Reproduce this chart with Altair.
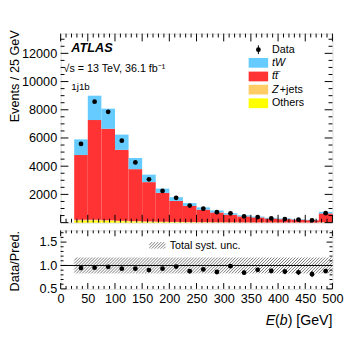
import altair as alt
import pandas as pd

# ---------------- data ----------------
bin_lo = [25, 50, 75, 100, 125, 150, 175, 200, 225, 250, 275, 300, 325, 350, 375, 400, 425, 450, 475]
bin_hi = [50, 75, 100, 125, 150, 175, 200, 225, 250, 275, 300, 325, 350, 375, 400, 425, 450, 475, 500]
data_vals = [5575, 8570, 7855, 5810, 4265, 3070, 2245, 1760, 1210, 990, 740, 660, 440, 390, 300, 252, 205, 163, 670]
data_err = [75, 93, 89, 76, 65, 55, 47, 42, 35, 31, 27, 26, 21, 20, 17, 16, 14, 13, 26]
tw_vals = [1110, 1730, 1430, 1080, 790, 530, 300, 260, 190, 160, 140, 110, 80, 60, 50, 45, 35, 30, 110]
ttbar_vals = [4590, 7060, 6485, 5025, 3682, 2788, 2048, 1492, 1152, 890, 696, 541, 425, 358, 279, 236, 197, 163, 630]
zjets_vals = [70, 60, 45, 35, 28, 22, 17, 13, 10, 8, 6, 5, 4, 3, 3, 2, 2, 2, 6]
others_vals = [130, 150, 120, 100, 80, 60, 45, 35, 28, 22, 18, 14, 11, 9, 8, 7, 6, 5, 14]
syst_unc = [0.17, 0.17, 0.17, 0.17, 0.17, 0.17, 0.17, 0.17, 0.17, 0.17, 0.17, 0.17, 0.17, 0.17, 0.17, 0.17, 0.17, 0.17, 0.17]

process_names = ["Others", "Z+jets", "ttbar", "tW"]
process_colors = ["#FFFF00", "#FFCC66", "#FF3333", "#66CCFF"]

x_major = [0, 50, 100, 150, 200, 250, 300, 350, 400, 450, 500]
x_minor = [v for v in range(0, 501, 10) if v % 50 != 0]
y_main_labels = [2000, 4000, 6000, 8000, 10000, 12000]
y_main_major = [0, 2000, 4000, 6000, 8000, 10000, 12000]
y_main_minor = [v for v in range(500, 13400, 500) if v % 2000 != 0]
y_ratio_labels = [0.5, 1, 1.5]
y_ratio_minor = [0.6, 0.7, 0.8, 0.9, 1.1, 1.2, 1.3, 1.4, 1.6, 1.7]

# ---------------- geometry ----------------
W = 279
H1 = 194
H2 = 60
X_DOM = [0, 500]
Y1_DOM = [0, 13400]
Y2_DOM = [0.5, 1.75]
FONT = "Liberation Sans"

# ---------------- derived tables ----------------
rows = []
for i in range(len(bin_lo)):
    base = 0.0
    for name, vals in zip(process_names, [others_vals, zjets_vals, ttbar_vals, tw_vals]):
        rows.append({"lo": bin_lo[i], "hi": bin_hi[i], "proc": name,
                     "y0": base, "y1": base + vals[i]})
        base += vals[i]
stack_df = pd.DataFrame(rows)

pred = [o + z + t + w for o, z, t, w in zip(others_vals, zjets_vals, ttbar_vals, tw_vals)]
pts = pd.DataFrame({
    "x": [(a + b) / 2 for a, b in zip(bin_lo, bin_hi)],
    "y": data_vals,
    "ylo": [d - e for d, e in zip(data_vals, data_err)],
    "yhi": [d + e for d, e in zip(data_vals, data_err)],
    "r": [d / p for d, p in zip(data_vals, pred)],
    "rlo": [(d - e) / p for d, e, p in zip(data_vals, data_err, pred)],
    "rhi": [(d + e) / p for d, e, p in zip(data_vals, data_err, pred)],
})

# hatch lines for the systematic band (45 degrees in pixel space)
kk = (W / (X_DOM[1] - X_DOM[0])) / (H2 / (Y2_DOM[1] - Y2_DOM[0]))  # ratio units per GeV


def hatch(rects, step_gev):
    segs = []
    xmin = min(r[0] for r in rects)
    xmax = max(r[1] for r in rects)
    smax = max((r[3] - r[2]) for r in rects) / kk
    c = xmin - smax
    while c < xmax + smax:
        for lo, hi, rlo, rhi in rects:
            xa = max(lo, c)
            xb = min(hi, c + (rhi - rlo) / kk)
            if xa < xb:
                segs.append({"x": xa, "x2": xb,
                             "y": rlo + (xa - c) * kk, "y2": rlo + (xb - c) * kk})
        c += step_gev
    return pd.DataFrame(segs)


band_rects = [(lo, hi, 1 - s, 1 + s) for lo, hi, s in zip(bin_lo, bin_hi, syst_unc)]
band_df = hatch(band_rects, 5.5)
leg_hatch_df = hatch([(163, 193, 1.36, 1.5)], 5.5)

xs = alt.Scale(domain=X_DOM, nice=False, zero=False)
y1s = alt.Scale(domain=Y1_DOM, nice=False, zero=False)
y2s = alt.Scale(domain=Y2_DOM, nice=False, zero=False)

y1_axis = alt.Axis(values=y_main_labels, format="d", ticks=False, tickSize=0, domain=False, grid=False,
                   labelFontSize=13, labelPadding=4, title="Events / 25 GeV", titleFontSize=13,
                   titleFontWeight="normal", titleAnchor="end", titleX=-43, titleY=-4,
                   titleAlign="right", titleBaseline="alphabetic", titleAngle=270)
y2_axis = alt.Axis(values=y_ratio_labels, ticks=False, tickSize=0, domain=False, grid=False,
                   labelFontSize=13, labelPadding=4, title="Data/Pred.", titleFontSize=13,
                   titleFontWeight="normal", titleAnchor="end", titleX=-43, titleY=0,
                   titleAlign="right", titleBaseline="alphabetic", titleAngle=270)
x2_axis = alt.Axis(values=x_major, ticks=False, tickSize=0, domain=False, grid=False,
                   labelFontSize=13, labelPadding=4, title="", labelFlush=False)

one = pd.DataFrame({"a": [0]})


def xenc(field, main=True):
    if main:
        return alt.X(field, scale=xs, axis=None)
    return alt.X(field, scale=xs, axis=x2_axis)


def ticks(vals_x, vals_y, H, yscale, yaxis, main):
    layers = []
    for vals, L in vals_x:
        df = pd.DataFrame({"v": vals})
        layers.append(alt.Chart(df).mark_rule(color="black", strokeWidth=1).encode(
            x=xenc("v:Q", main), y=alt.value(H), y2=alt.value(H - L)))
        layers.append(alt.Chart(df).mark_rule(color="black", strokeWidth=1).encode(
            x=xenc("v:Q", main), y=alt.value(0), y2=alt.value(L)))
    for vals, L in vals_y:
        df = pd.DataFrame({"v": vals})
        layers.append(alt.Chart(df).mark_rule(color="black", strokeWidth=1).encode(
            y=alt.Y("v:Q", scale=yscale, axis=yaxis), x=alt.value(0), x2=alt.value(L)))
        layers.append(alt.Chart(df).mark_rule(color="black", strokeWidth=1).encode(
            y=alt.Y("v:Q", scale=yscale, axis=yaxis), x=alt.value(W), x2=alt.value(W - L)))
    return layers


def txt(s, x, y, size=11, style="normal", weight="normal", align="left"):
    return alt.Chart(one).mark_text(text=s, font=FONT, fontSize=size, fontStyle=style,
                                    fontWeight=weight, align=align, baseline="middle",
                                    color="black").encode(x=alt.value(x), y=alt.value(y))


# ---------------- main panel ----------------
bars = alt.Chart(stack_df).mark_rect(strokeWidth=0).encode(
    x=xenc("lo:Q"), x2="hi:Q",
    y=alt.Y("y0:Q", scale=y1s, axis=y1_axis), y2="y1:Q",
    color=alt.Color("proc:N", scale=alt.Scale(domain=process_names, range=process_colors), legend=None),
)
errs = alt.Chart(pts).mark_rule(color="black", strokeWidth=1).encode(
    x=xenc("x:Q"), y=alt.Y("ylo:Q", scale=y1s, axis=y1_axis), y2="yhi:Q")
dots = alt.Chart(pts).mark_circle(color="black", size=24, opacity=1).encode(
    x=xenc("x:Q"), y=alt.Y("y:Q", scale=y1s, axis=y1_axis))

main_layers = [bars, errs, dots]
main_layers += ticks([(x_major, 8), (x_minor, 4)], [(y_main_major, 8), (y_main_minor, 4)],
                     H1, y1s, y1_axis, True)

# annotations
main_layers += [
    txt("ATLAS", 11, 15, size=13, style="italic", weight="bold"),
    txt("\u221as = 13 TeV, 36.1 fb\u207b\u00b9", 3, 36, size=11),
    txt("1j1b", 11, 55, size=10),
]
# legend
leg_rows = [(30, "#66CCFF"), (44, "#FF3333"), (57.5, "#FFCC66"), (71.5, "#FFFF00")]
for yy, col in leg_rows:
    main_layers.append(alt.Chart(one).mark_rect(color=col).encode(
        x=alt.value(193), x2=alt.value(213), y=alt.value(yy - 5), y2=alt.value(yy + 5)))
main_layers.append(txt("tW", 217, 30, style="italic"))
main_layers.append(txt("t\u0074\u0305", 217, 44, style="italic"))
main_layers.append(txt("Z", 217, 57.5, style="italic"))
main_layers.append(txt("+jets", 225, 57.5))
main_layers.append(txt("Others", 217, 71.5))
main_layers.append(alt.Chart(one).mark_rule(color="black").encode(
    x=alt.value(203), y=alt.value(12), y2=alt.value(21)))
main_layers.append(alt.Chart(one).mark_circle(color="black", size=24, opacity=1).encode(
    x=alt.value(203), y=alt.value(16.5)))
main_layers.append(txt("Data", 217, 16.5))

main = alt.layer(*main_layers).properties(width=W, height=H1)

# ---------------- ratio panel ----------------
hatch_lines = alt.Chart(band_df).mark_rule(color="#555555", strokeWidth=0.8).encode(
    x=xenc("x:Q", False), x2="x2:Q", y=alt.Y("y:Q", scale=y2s, axis=y2_axis), y2="y2:Q")
leg_hatch = alt.Chart(leg_hatch_df).mark_rule(color="#555555", strokeWidth=0.8).encode(
    x=xenc("x:Q", False), x2="x2:Q", y=alt.Y("y:Q", scale=y2s, axis=y2_axis), y2="y2:Q")
unity = alt.Chart(pd.DataFrame({"x": [0], "x2": [500], "y": [1.0]})).mark_rule(
    color="black", strokeWidth=1).encode(
    x=xenc("x:Q", False), x2="x2:Q", y=alt.Y("y:Q", scale=y2s, axis=y2_axis))
rerrs = alt.Chart(pts).mark_rule(color="black", strokeWidth=1).encode(
    x=xenc("x:Q", False), y=alt.Y("rlo:Q", scale=y2s, axis=y2_axis), y2="rhi:Q")
rdots = alt.Chart(pts).mark_circle(color="black", size=24, opacity=1).encode(
    x=xenc("x:Q", False), y=alt.Y("r:Q", scale=y2s, axis=y2_axis))

ratio_layers = [hatch_lines, unity, rerrs, rdots, leg_hatch]
ratio_layers += ticks([(x_major, 6), (x_minor, 3)], [([0.5, 1.0, 1.5], 6), (y_ratio_minor, 3)],
                      H2, y2s, y2_axis, False)
ratio_layers += [
    txt("Total syst. unc.", 112, 16, size=11),
    txt(") [GeV]", W, 93, size=14.5, align="right"),
    txt("b", W - 45.9, 93, size=14.5, style="italic", align="right"),
    txt("(", W - 54.0, 93, size=14.5, align="right"),
    txt("E", W - 58.8, 93, size=14.5, style="italic", align="right"),
]
ratio = alt.layer(*ratio_layers).properties(width=W, height=H2)

chart = alt.vconcat(main, ratio, spacing=6).properties(
    padding={"left": 0, "top": 17, "right": 5, "bottom": 0}
).configure_view(stroke="black", strokeWidth=1).configure(
    font=FONT
).configure_axis(labelFont=FONT, titleFont=FONT, labelColor="black", titleColor="black")

chart.save("out.html", embed_options={"renderer": "svg", "actions": False})
